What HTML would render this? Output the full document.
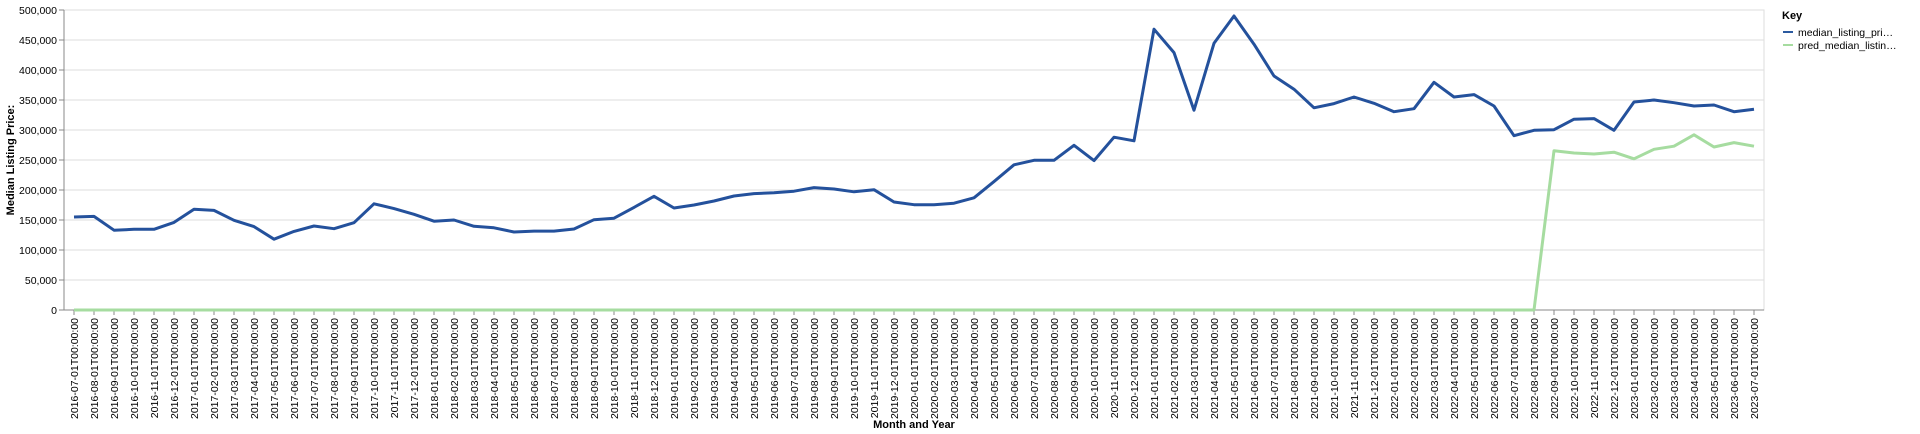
<!DOCTYPE html>
<html><head><meta charset="utf-8"><style>
html,body{margin:0;padding:0;background:#fff;}
svg{display:block;font-family:"Liberation Sans",sans-serif;}
</style></head><body>
<svg id="chart" width="1920" height="434" xmlns="http://www.w3.org/2000/svg">
<g id="grid"></g>
<g id="yaxis"></g>
<g id="xaxis"></g>
<g id="series"></g>
<text x="14" y="160" transform="rotate(-90 14 160)" text-anchor="middle" font-size="11" font-weight="bold" fill="#000">Median Listing Price:</text>
<text x="914" y="428" text-anchor="middle" font-size="11" font-weight="bold" fill="#000">Month and Year</text>
<g>
<text x="1782" y="19" font-size="11" font-weight="bold" fill="#000">Key</text>
<g>
<line x1="1783" y1="32" x2="1793" y2="32" stroke="#2b5aa0" stroke-width="2"/>
<text x="1798" y="36" font-size="10.5" fill="#000">median_listing_pri…</text></g>
<g>
<line x1="1783" y1="45" x2="1793" y2="45" stroke="#a6dca0" stroke-width="2"/>
<text x="1798" y="49" font-size="10.5" fill="#000">pred_median_listin…</text></g>
</g>
</svg>
<script>
const yTicks = [0,50000,100000,150000,200000,250000,300000,350000,400000,450000,500000];
const median = [155000,156000,133000,134500,134500,146000,168000,166000,149500,139000,118000,131000,140000,135500,145500,177000,169000,159500,148000,150000,139500,137000,130000,131500,131500,135000,150500,153000,171000,189500,170000,175000,181700,190000,194000,195500,198000,204000,201700,197000,200500,180000,175500,175500,178000,187000,214000,242000,249500,249500,274500,249000,288000,282000,468000,429000,333000,444500,490000,443000,390000,368000,337000,344000,355000,344500,330500,335500,379500,355000,359000,340000,290500,299500,300500,318000,319000,299500,346700,350000,345500,340000,341700,330500,334500];
const pred = [0,0,0,0,0,0,0,0,0,0,0,0,0,0,0,0,0,0,0,0,0,0,0,0,0,0,0,0,0,0,0,0,0,0,0,0,0,0,0,0,0,0,0,0,0,0,0,0,0,0,0,0,0,0,0,0,0,0,0,0,0,0,0,0,0,0,0,0,0,0,0,0,0,0,265500,261700,260000,263000,252000,267800,273000,292000,271700,279000,273000];
const startYear = 2016, startMonth = 7;
const categories = [];
for (let i = 0; i < median.length; i++) {
  const m = startMonth - 1 + i, yr = startYear + Math.floor(m / 12), mo = (m % 12) + 1;
  categories.push(yr + '-' + String(mo).padStart(2, '0') + '-01T00:00:00');
}
const NS = 'http://www.w3.org/2000/svg';
const L = 64, R = 1764, T = 10, B = 310, yMax = 500000;
const x0 = 74, step = (1754 - 74) / (categories.length - 1);
const xs = i => x0 + i * step;
const ys = v => B - (v / yMax) * (B - T);
function mk(tag, attrs, parent) { const e = document.createElementNS(NS, tag); for (const k in attrs) e.setAttribute(k, attrs[k]); parent.appendChild(e); return e; }
const grid = document.getElementById('grid'), yax = document.getElementById('yaxis'), xax = document.getElementById('xaxis'), ser = document.getElementById('series');
mk('rect', {x: L, y: T, width: R - L, height: B - T, fill: 'none', stroke: '#ddd'}, grid);
yTicks.forEach(v => {
  const y = ys(v);
  const g = mk('line', {x1: L, x2: R, y1: y, y2: y, stroke: '#ddd', 'stroke-width': 1}, grid);
  
  
  mk('line', {x1: L - 5, x2: L, y1: y, y2: y, stroke: '#888'}, yax);
  const t = mk('text', {x: L - 7, y: y + 4, 'text-anchor': 'end', 'font-size': 10.5, fill: '#000'}, yax);
  t.textContent = v.toLocaleString('en-US');
  
  
});
mk('line', {x1: L, x2: L, y1: T, y2: B, stroke: '#888'}, yax);
mk('line', {x1: L, x2: R, y1: B, y2: B, stroke: '#888'}, xax);
categories.forEach((c, i) => {
  const x = xs(i);
  mk('line', {x1: x, x2: x, y1: B, y2: B + 5, stroke: '#888'}, xax);
  const t = mk('text', {x: x + 4, y: B + 8, 'text-anchor': 'end', 'font-size': 10.5, fill: '#000', transform: 'rotate(-90 ' + (x + 4) + ' ' + (B + 8) + ')'}, xax);
  t.textContent = c;
  
  
});
function line(data, color, name) {
  const p = mk('path', {d: data.map((v, i) => (i ? 'L' : 'M') + xs(i).toFixed(1) + ' ' + ys(v).toFixed(1)).join(''), fill: 'none', stroke: color, 'stroke-width': 3, 'stroke-linejoin': 'round'}, ser);
  
  
}
line(pred, '#a6dca0', 'pred-median-line');
line(median, '#24519c', 'median-listing-price-line');
</script>
</body></html>
